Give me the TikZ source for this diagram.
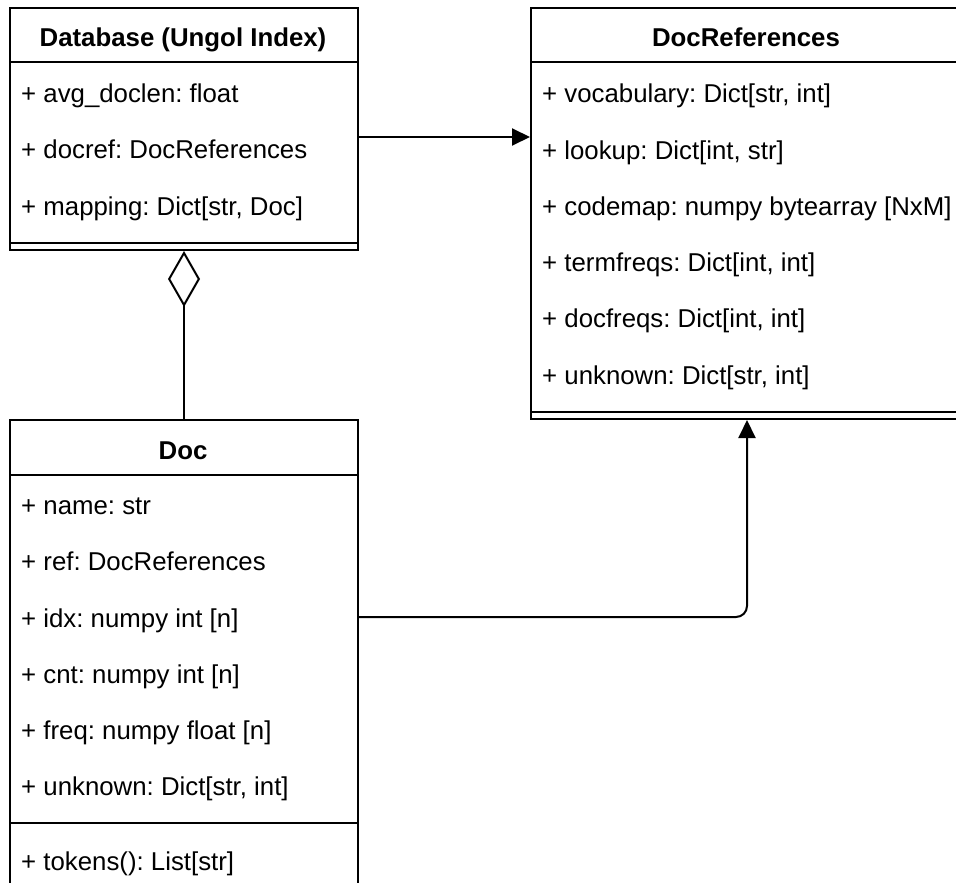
\documentclass[tikz,border=0pt]{standalone}
\usepackage{fontspec}
\setmainfont{Liberation Sans}
\usetikzlibrary{arrows.meta,calc}
\frenchspacing
\begin{document}
\begin{tikzpicture}[x=1pt,y=-1pt,
  font=\fontsize{25.8pt}{31pt}\selectfont,
  box/.style={draw, line width=2pt, inner sep=0pt, anchor=north west},
  sep/.style={line width=2pt},
  title/.style={font=\fontsize{25.8pt}{31pt}\selectfont\bfseries, anchor=base, inner sep=0pt},
  attr/.style={anchor=base west, inner sep=0pt},
  conn/.style={line width=2pt},
  filled tip/.style={-{Triangle[length=18pt,width=17pt]}},
  aggregation/.style={{Diamond[open,length=56pt,width=32pt]}-}]
\useasboundingbox (0,0) rectangle (956,883);
\clip (0,0) rectangle (956,883);

% class Database (Ungol Index)
\node[box, minimum width=348pt, minimum height=242pt] (db) at (9,7) {};
\draw[sep] ([yshift=-55pt]db.north west) -- ([yshift=-55pt]db.north east);
\draw[sep] ([yshift=8pt]db.south west) -- ([yshift=8pt]db.south east);
\node[title] (dbT) at (183,46.7) {Database (Ungol Index)};
\node[attr] (dbA1) at (21,102.5) {+ avg\_doclen: float};
\node[attr] (dbA2) at (21,158.8) {+ docref: DocReferences};
\node[attr] (dbA3) at (21,215.1) {+ mapping: Dict[str, Doc]};

% class DocReferences
\node[box, minimum width=432pt, minimum height=411pt] (refs) at (530,7) {};
\draw[sep] ([yshift=-55pt]refs.north west) -- ([yshift=-55pt]refs.north east);
\draw[sep] ([yshift=8pt]refs.south west) -- ([yshift=8pt]refs.south east);
\node[title] (refsT) at (746,46.7) {DocReferences};
\node[attr] (rA1) at (542,102.7) {+ vocabulary: Dict[str, int]};
\node[attr] (rA2) at (542,159.0) {+ lookup: Dict[int, str]};
\node[attr] (rA3) at (542,215.3) {+ codemap: numpy bytearray [NxM]};
\node[attr] (rA4) at (542,271.6) {+ termfreqs: Dict[int, int]};
\node[attr] (rA5) at (542,327.9) {+ docfreqs: Dict[int, int]};
\node[attr] (rA6) at (542,384.2) {+ unknown: Dict[str, int]};

% class Doc
\node[box, minimum width=348pt, minimum height=468pt] (doc) at (9,419) {};
\draw[sep] ([yshift=-56pt]doc.north west) -- ([yshift=-56pt]doc.north east);
\draw[sep] ([yshift=-404pt]doc.north west) -- ([yshift=-404pt]doc.north east);
\node[title] (docT) at (183,459.3) {Doc};
\node[attr] (dA1) at (21,514.4) {+ name: str};
\node[attr] (dA2) at (21,570.7) {+ ref: DocReferences};
\node[attr] (dA3) at (21,627.0) {+ idx: numpy int [n]};
\node[attr] (dA4) at (21,683.3) {+ cnt: numpy int [n]};
\node[attr] (dA5) at (21,739.6) {+ freq: numpy float [n]};
\node[attr] (dA6) at (21,795.9) {+ unknown: Dict[str, int]};
\node[attr] (dM1) at (21,870.0) {+ tokens(): List[str]};

% connectors
\coordinate (rowA) at (0,137);
\coordinate (rowB) at (0,617);
\draw[conn, filled tip] (db.east |- rowA) -- (refs.west |- rowA);
\draw[conn, aggregation] (db.south) -- (doc.north);
\draw[conn, filled tip, rounded corners=11pt] (doc.east |- rowB) -| (refs.south);
\end{tikzpicture}
\end{document}
